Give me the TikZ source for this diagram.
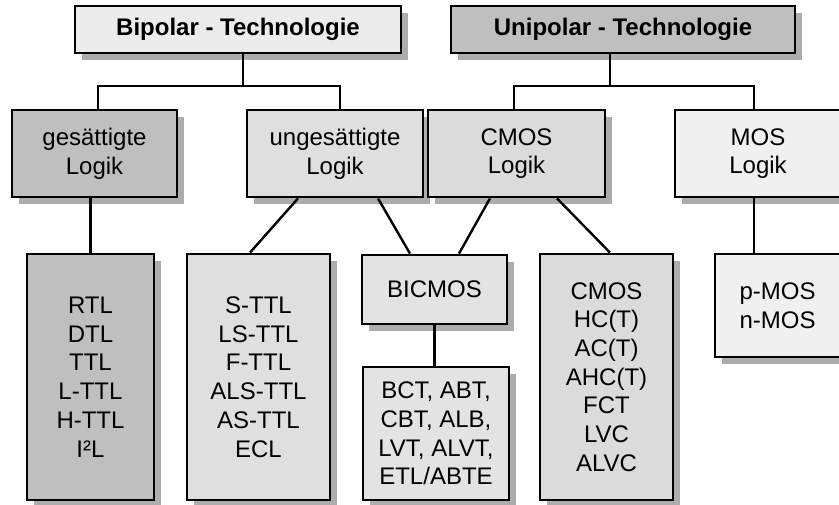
\documentclass[tikz,border=0pt]{standalone}
\usepackage{fontspec}
\setmainfont{Liberation Sans}
\usetikzlibrary{shadows}
\begin{document}
\begin{tikzpicture}[x=1pt,y=-1pt,
  box/.style={draw=black,line width=2.8pt,align=center,inner sep=0pt,
    font=\fontsize{24}{28.7}\selectfont,
    drop shadow={shadow xshift=7pt,shadow yshift=-7pt,fill=black!32,opacity=1}},
  conn/.style={line width=2.4pt}]
  \useasboundingbox (0,0) rectangle (839,504);

  % Technologien
  \node[box,fill=gray!15,minimum width=326,minimum height=47] (bip) at (238,29.5) {\bfseries Bipolar - Technologie};
  \node[box,fill=gray!50,line width=2.2pt,minimum width=344,minimum height=47] (uni) at (623,29.5) {\bfseries Unipolar - Technologie};

  % Logikfamilien
  \node[box,fill=gray!50,minimum width=165,minimum height=87] (ges) at (94.5,153.5) {gesättigte\\Logik};
  \node[box,fill=gray!25,minimum width=176,minimum height=87] (unges) at (335,153.5) {ungesättigte\\Logik};
  \node[box,fill=gray!28,minimum width=177,minimum height=87] (cmosl) at (516.5,153.5) {CMOS\\Logik};
  \node[box,fill=gray!12,minimum width=166,minimum height=87] (mosl) at (758,153.5) {MOS\\Logik};

  % Schaltkreisfamilien
  \node[box,fill=gray!50,minimum width=127,minimum height=246] (bipl) at (90.5,377) {RTL\\DTL\\TTL\\L-TTL\\H-TTL\\I²L};
  \node[box,fill=gray!25,minimum width=143,minimum height=246] (ungl) at (258.5,377) {S-TTL\\LS-TTL\\F-TTL\\ALS-TTL\\AS-TTL\\ECL};
  \node[box,fill=gray!22,minimum width=145,minimum height=69] (bicmos) at (434.5,289.5) {BICMOS};
  \node[box,fill=gray!22,minimum width=146,minimum height=133] (bicl) at (436,433.5) {BCT, ABT,\\CBT, ALB,\\LVT, ALVT,\\ETL/ABTE};
  \node[box,fill=gray!28,minimum width=133,minimum height=246] (cmosli) at (606.5,377) {CMOS\\HC(T)\\AC(T)\\AHC(T)\\FCT\\LVC\\ALVC};
  \node[box,fill=gray!12,minimum width=125,minimum height=103] (mosli) at (777.5,305.5) {p-MOS\\n-MOS};

  % Verbindungen
  \coordinate (bj) at (243,86);
  \coordinate (uj) at (610,86);
  \draw[conn] (bip.south -| bj) -- (bj);
  \draw[conn] ([xshift=3.5pt]ges.north) |- (bj) -| ([xshift=5pt]unges.north);
  \draw[conn] (uni.south -| uj) -- (uj);
  \draw[conn] ([xshift=-2.5pt]cmosl.north) |- (uj) -| ([xshift=-4pt]mosl.north);
  \draw[conn] (ges.south -| bipl.north) -- (bipl.north);
  \draw[conn] ([xshift=-37pt]unges.south) -- ([xshift=-8.5pt]ungl.north);
  \draw[conn] ([xshift=43pt]unges.south) -- ([xshift=-24.5pt]bicmos.north);
  \draw[conn] ([xshift=-26.5pt]cmosl.south) -- ([xshift=24.5pt]bicmos.north);
  \draw[conn] ([xshift=40.5pt]cmosl.south) -- ([xshift=3.5pt]cmosli.north);
  \draw[conn] (bicmos.south) -- (bicmos.south |- bicl.north);
  \draw[conn] ([xshift=-4pt]mosl.south) -- ([xshift=-4pt]mosl.south |- mosli.north);
\end{tikzpicture}
\end{document}
